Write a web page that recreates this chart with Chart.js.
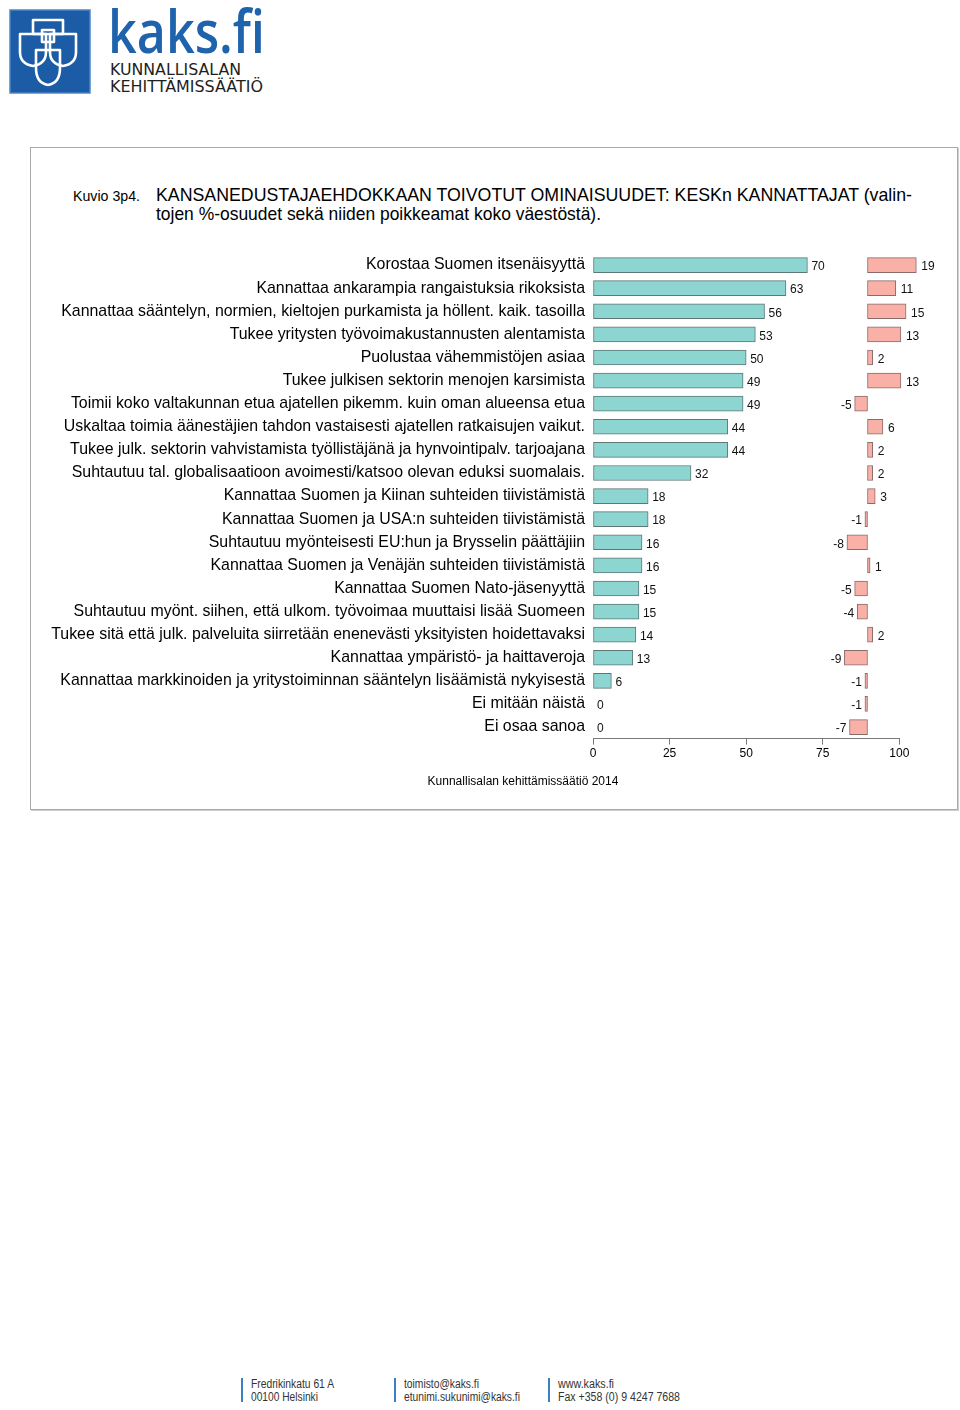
<!DOCTYPE html>
<html>
<head>
<meta charset="utf-8">
<script src="https://cdn.jsdelivr.net/npm/chart.js@4.4.1/dist/chart.umd.min.js"></script>
<style>
  body { margin: 0; background: #fff; width: 960px; height: 1410px; position: relative; overflow: hidden; }
  .abs { position: absolute; }
  #frame { left: 30px; top: 147px; width: 926px; height: 661px; border: 1px solid #a8a8a8; box-shadow: 1px 1px 0 #d0d0d0; }
  #chart-box { left: 40px; top: 236px; width: 900px; height: 544px; }
  #source { left: 0; width: 1046px; top: 774px; text-align: center; font: 12px "Liberation Sans", Arial, sans-serif; color: #000; }
</style>
</head>
<body>

<!-- logo -->
<svg class="abs" style="left:0;top:0" width="280" height="100">
  <rect x="10" y="10" width="80" height="83" fill="#1c5ba6" stroke="#4f86c4" stroke-width="1.5"/>
  <g fill="none" stroke="#fff" stroke-width="2.6" stroke-linejoin="round">
    <path d="M33 20 H63 V34 H33 Z"/>
    <path d="M20 34 H46 V52 Q46 64 33 66 Q20 64 20 52 Z"/>
    <path d="M50 34 H76 V52 Q76 64 63 66 Q50 64 50 52 Z"/>
    <path d="M36 50 H60 V68 Q60 83 48 85 Q36 83 36 68 Z"/>
    <path d="M42 30 H54 V42 H42 Z"/>
  </g>
  <text x="108" y="53" font-family="'Open Sans', 'Liberation Sans', sans-serif" font-size="60" font-weight="600" fill="#1f63ad" textLength="157" lengthAdjust="spacingAndGlyphs">kaks.fi</text>
  <text x="110" y="75" font-family="'DejaVu Sans', sans-serif" font-size="15.5" fill="#1e1e1e" textLength="131" lengthAdjust="spacingAndGlyphs">KUNNALLISALAN</text>
  <text x="110" y="92" font-family="'DejaVu Sans', sans-serif" font-size="15.5" fill="#1e1e1e" textLength="153" lengthAdjust="spacingAndGlyphs">KEHITTÄMISSÄÄTIÖ</text>
</svg>

<div id="frame" class="abs"></div>

<!-- title -->
<svg class="abs" style="left:0;top:180px" width="960" height="50">
  <text x="73" y="21" font-family="'Liberation Sans Narrow', 'Liberation Sans', Arial, sans-serif" font-size="14" fill="#000" textLength="67" lengthAdjust="spacingAndGlyphs">Kuvio 3p4.</text>
  <text x="156" y="21" font-family="'Liberation Sans Narrow', 'Liberation Sans', Arial, sans-serif" font-size="19" fill="#000" textLength="756" lengthAdjust="spacingAndGlyphs">KANSANEDUSTAJAEHDOKKAAN TOIVOTUT OMINAISUUDET: KESKn KANNATTAJAT (valin-</text>
  <text x="156" y="40" font-family="'Liberation Sans Narrow', 'Liberation Sans', Arial, sans-serif" font-size="19" fill="#000" textLength="445" lengthAdjust="spacingAndGlyphs">tojen %-osuudet sekä niiden poikkeamat koko väestöstä).</text>
</svg>

<div id="chart-box" class="abs"><canvas id="chart"></canvas></div>
<div id="source" class="abs">Kunnallisalan kehittämissäätiö 2014</div>

<!-- footer -->
<svg class="abs" style="left:0;top:1370px" width="960" height="40">
  <g fill="#3d7fc0">
    <rect x="241" y="8" width="2" height="24"/>
    <rect x="394" y="8" width="2" height="24"/>
    <rect x="548" y="8" width="2" height="24"/>
  </g>
  <g font-family="'Liberation Sans Narrow', 'Liberation Sans', sans-serif" font-size="12" fill="#333">
    <text x="251" y="18" textLength="83" lengthAdjust="spacingAndGlyphs">Fredrikinkatu 61 A</text>
    <text x="251" y="31" textLength="67" lengthAdjust="spacingAndGlyphs">00100 Helsinki</text>
    <text x="404" y="18" textLength="75" lengthAdjust="spacingAndGlyphs">toimisto@kaks.fi</text>
    <text x="404" y="31" textLength="116" lengthAdjust="spacingAndGlyphs">etunimi.sukunimi@kaks.fi</text>
    <text x="558" y="18" textLength="56" lengthAdjust="spacingAndGlyphs">www.kaks.fi</text>
    <text x="558" y="31" textLength="122" lengthAdjust="spacingAndGlyphs">Fax +358 (0) 9 4247 7688</text>
  </g>
</svg>

<script>
// ==========================
// DATA
// ==========================
const categories = [
  "Korostaa Suomen itsenäisyyttä",
  "Kannattaa ankarampia rangaistuksia rikoksista",
  "Kannattaa sääntelyn, normien, kieltojen purkamista ja höllent. kaik. tasoilla",
  "Tukee yritysten työvoimakustannusten alentamista",
  "Puolustaa vähemmistöjen asiaa",
  "Tukee julkisen sektorin menojen karsimista",
  "Toimii koko valtakunnan etua ajatellen pikemm. kuin oman alueensa etua",
  "Uskaltaa toimia äänestäjien tahdon vastaisesti ajatellen ratkaisujen vaikut.",
  "Tukee julk. sektorin vahvistamista työllistäjänä ja hynvointipalv. tarjoajana",
  "Suhtautuu tal. globalisaatioon avoimesti/katsoo olevan eduksi suomalais.",
  "Kannattaa Suomen ja Kiinan suhteiden tiivistämistä",
  "Kannattaa Suomen ja USA:n suhteiden tiivistämistä",
  "Suhtautuu myönteisesti EU:hun ja Brysselin päättäjiin",
  "Kannattaa Suomen ja Venäjän suhteiden tiivistämistä",
  "Kannattaa Suomen Nato-jäsenyyttä",
  "Suhtautuu myönt. siihen, että ulkom. työvoimaa muuttaisi lisää Suomeen",
  "Tukee sitä että julk. palveluita siirretään enenevästi yksityisten hoidettavaksi",
  "Kannattaa ympäristö- ja haittaveroja",
  "Kannattaa markkinoiden ja yritystoiminnan sääntelyn lisäämistä nykyisestä",
  "Ei mitään näistä",
  "Ei osaa sanoa",
];

// share of KESK supporters (%)
const shares = [70, 63, 56, 53, 50, 49, 49, 44, 44, 32, 18, 18, 16, 16, 15, 15, 14, 13, 6, 0, 0];

// deviation from whole population (%-points)
const deviations = [19, 11, 15, 13, 2, 13, -5, 6, 2, 2, 3, -1, -8, 1, -5, -4, 2, -9, -1, -1, -7];

const xTicks = [0, 25, 50, 75, 100];

const TEAL = "#8dd5d1";
const TEAL_BORDER = "#5c7776";
const PINK = "#f9b1a7";
const PINK_BORDER = "#8b6a6a";
const FONT = "'Liberation Sans', Arial, sans-serif";

// ==========================
// VALUE LABELS
// ==========================
const valueLabels = {
  id: "valueLabels",
  afterDatasetsDraw(chart) {
    const ctx = chart.ctx;
    ctx.save();
    ctx.font = "12px " + FONT;
    ctx.fillStyle = "#111";
    ctx.textBaseline = "middle";
    chart.data.datasets.forEach((ds, di) => {
      const meta = chart.getDatasetMeta(di);
      meta.data.forEach((bar, i) => {
        const v = ds.data[i];
        const y = bar.y + 2;
        if (v >= 0) {
          ctx.textAlign = "left";
          ctx.fillText(String(v), bar.x + (di === 0 ? 4 : 5), y);
        } else {
          ctx.textAlign = "right";
          ctx.fillText(String(v), bar.x - 3, y);
        }
      });
    });
    ctx.restore();
  },
};

// ==========================
// CHART
// ==========================
new Chart(document.getElementById("chart"), {
  type: "bar",
  data: {
    labels: categories,
    datasets: [
      {
        label: "Osuus",
        data: shares,
        xAxisID: "x",
        backgroundColor: TEAL,
        borderColor: TEAL_BORDER,
        borderWidth: 1,
        borderSkipped: false,
        barThickness: 15,
        grouped: false,
      },
      {
        label: "Poikkeama",
        data: deviations,
        xAxisID: "x2",
        backgroundColor: PINK,
        borderColor: PINK_BORDER,
        borderWidth: 1,
        borderSkipped: false,
        barThickness: 15,
        grouped: false,
        clip: false,
      },
    ],
  },
  options: {
    indexAxis: "y",
    responsive: true,
    maintainAspectRatio: false,
    animation: false,
    layout: { padding: { top: 8.3, right: 40.7, left: 0, bottom: 0 } },
    plugins: {
      legend: { display: false },
      tooltip: { enabled: false },
    },
    scales: {
      y: {
        grid: { display: false, drawTicks: false },
        border: { display: false },
        ticks: { color: "#000", padding: 8, font: { family: FONT, size: 15.9 } },
        afterFit(scale) { scale.width = 553; },
      },
      x: {
        position: "bottom",
        min: 0,
        max: 100,
        afterBuildTicks(scale) { scale.ticks = xTicks.map((v) => ({ value: v })); },
        grid: { drawOnChartArea: false, drawTicks: true, tickLength: 6, color: "#7a7a7a" },
        border: { display: true, color: "#7a7a7a", width: 1 },
        ticks: { color: "#000", padding: 2, maxRotation: 0, font: { family: FONT, size: 12 } },
        afterFit(scale) { scale.height = 41.4; },
      },
      x2: {
        display: false,
        min: -106.8,
        max: 12.37,
      },
    },
  },
  plugins: [valueLabels],
});
</script>
</body>
</html>
